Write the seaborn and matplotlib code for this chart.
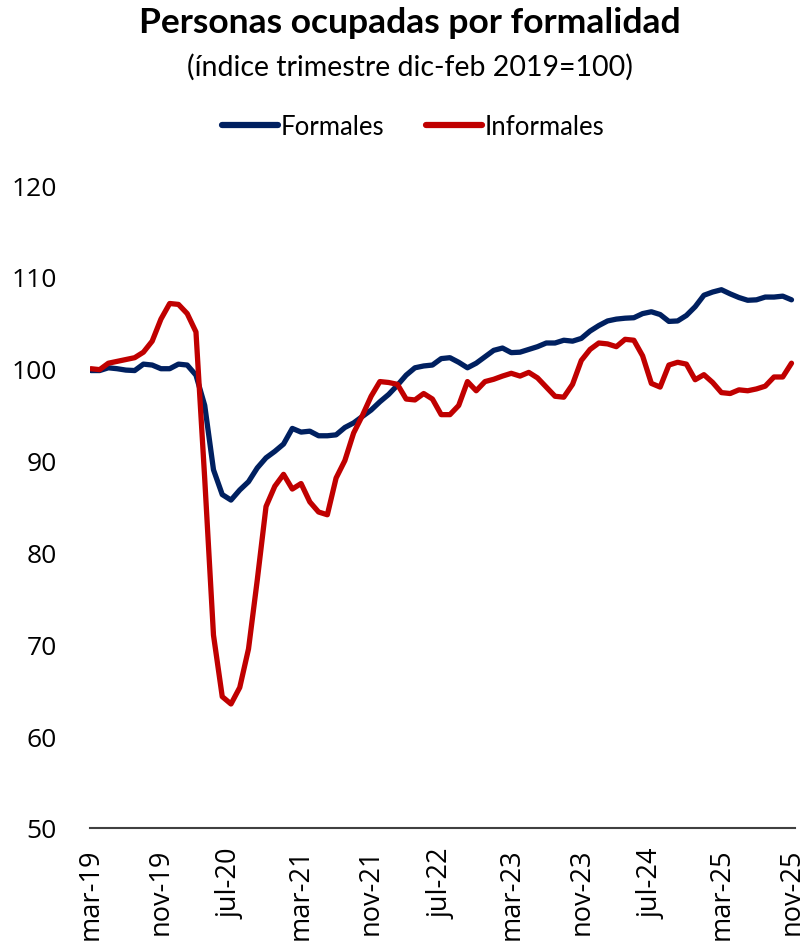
import numpy as np
import pandas as pd
import matplotlib
matplotlib.use("Agg")
import matplotlib.pyplot as plt
import seaborn as sns
from matplotlib.lines import Line2D

# monthly series, mar-19 .. nov-25
months = pd.date_range("2019-03-01", "2025-11-01", freq="MS")

formales = [
    99.8, 99.8, 100.1, 100.0, 99.85, 99.8, 100.5, 100.4, 100.0, 100.0,
    100.5, 100.4, 99.3, 96.0, 89.0, 86.3, 85.7, 86.8, 87.7, 89.2,
    90.3, 91.0, 91.8, 93.5, 93.1, 93.2, 92.7, 92.7, 92.8, 93.6,
    94.1, 94.8, 95.5, 96.4, 97.2, 98.2, 99.3, 100.1, 100.3, 100.4,
    101.1, 101.2, 100.7, 100.1, 100.6, 101.3, 102.0, 102.25, 101.75, 101.8,
    102.1, 102.4, 102.8, 102.8, 103.1, 103.0, 103.3, 104.1, 104.7, 105.2,
    105.4, 105.5, 105.55, 106.0, 106.2, 105.9, 105.15, 105.2, 105.8, 106.75,
    108.0, 108.35, 108.6, 108.15, 107.75, 107.45, 107.5, 107.8, 107.8, 107.9,
    107.5,
]

informales = [
    100.0, 99.9, 100.6, 100.8, 101.0, 101.2, 101.8, 103.0, 105.4, 107.1,
    107.0, 106.0, 104.0, 88.0, 71.0, 64.3, 63.5, 65.3, 69.5, 77.0,
    85.0, 87.2, 88.5, 86.9, 87.5, 85.5, 84.4, 84.1, 88.1, 90.0,
    93.0, 94.9, 97.0, 98.6, 98.5, 98.3, 96.7, 96.6, 97.3, 96.7,
    95.0, 95.0, 96.0, 98.6, 97.6, 98.6, 98.85, 99.2, 99.5, 99.2,
    99.6, 99.0, 98.0, 97.0, 96.9, 98.3, 100.9, 102.1, 102.8, 102.7,
    102.4, 103.2, 103.1, 101.4, 98.4, 98.0, 100.4, 100.7, 100.5, 98.8,
    99.35, 98.5, 97.4, 97.3, 97.7, 97.6, 97.8, 98.1, 99.1, 99.1,
    100.6,
]

mes = ["ene", "feb", "mar", "abr", "may", "jun", "jul", "ago", "sep", "oct", "nov", "dic"]
labels = [f"{mes[d.month - 1]}-{d.strftime('%y')}" for d in months]

df = pd.DataFrame({
    "t": np.arange(len(months)),
    "Formales": formales,
    "Informales": informales,
})
long = df.melt(id_vars="t", var_name="serie", value_name="indice")

sns.set_style("white")
plt.rcParams["font.family"] = ["Open Sans", "DejaVu Sans"]
plt.rcParams["text.color"] = "black"

fig = plt.figure(figsize=(8.04, 9.45), dpi=100)
ax = fig.add_axes([90 / 804, 116 / 945, 705 / 804, 643 / 945])

sns.lineplot(data=long, x="t", y="indice", hue="serie",
             palette={"Formales": "#002060", "Informales": "#C00000"},
             linewidth=3.8, ax=ax, legend=False)

ax.set_ylim(50, 120)
ax.set_yticks(range(50, 121, 10))
ax.set_xlim(-0.1, 80.4)
tick_idx = list(range(0, len(months), 8))
ax.set_xticks(tick_idx)
ax.set_xticklabels([labels[i] for i in tick_idx], rotation=90)
ax.tick_params(axis="both", length=0, colors="black")
ax.tick_params(axis="y", pad=24, labelsize=19)
ax.tick_params(axis="x", pad=14, labelsize=19.5)
ax.set_xlabel("")
ax.set_ylabel("")
for s in ["top", "right", "left"]:
    ax.spines[s].set_visible(False)
ax.spines["bottom"].set_color("#404040")
ax.spines["bottom"].set_linewidth(1.5)

fig.text(0.51, 0.976, "Personas ocupadas por formalidad", ha="center", va="center",
         fontsize=25.5, fontweight="bold", family=["Lato", "DejaVu Sans"])
fig.text(0.51, 0.929, "(índice trimestre dic-feb 2019=100)", ha="center", va="center",
         fontsize=20.5, family=["Lato", "DejaVu Sans"])

handles = [Line2D([], [], color="#002060", lw=4.5, solid_capstyle="round"),
           Line2D([], [], color="#C00000", lw=4.5, solid_capstyle="round")]
fig.legend(handles, ["Formales", "Informales"], loc="center", ncol=2,
           bbox_to_anchor=(0.514, 0.865), frameon=False, handlelength=2.2,
           handletextpad=0.1, columnspacing=1.6,
           prop={"family": ["Lato", "DejaVu Sans"], "size": 18.5})

fig.savefig("out.png", dpi=100)
